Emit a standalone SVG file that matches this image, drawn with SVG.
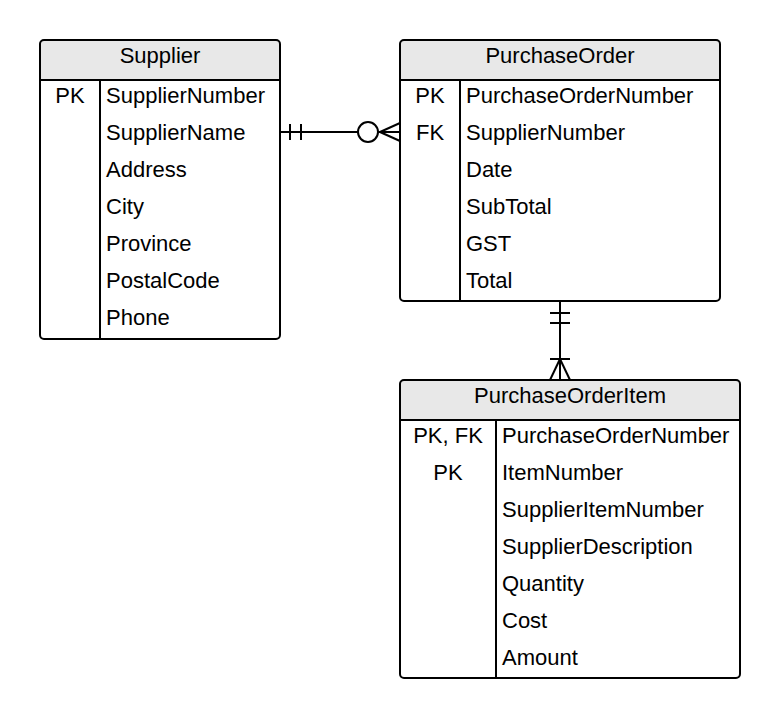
<svg xmlns="http://www.w3.org/2000/svg" width="780" height="719" viewBox="0 0 780 719">
<style>
  .box { fill: none; stroke: #000000; stroke-width: 2; }
  .hdr { fill: #e8e8e8; }
  .ln { stroke: #000000; stroke-width: 2; fill: none; }
  text { font-family: "Liberation Sans", Arial, sans-serif; font-size: 22px; fill: #000000; }
  .c { text-anchor: middle; }
</style>
<rect width="780" height="719" fill="#ffffff"/>

<g id="Supplier">
  <path class="hdr" d="M44,40 H276 A4,4 0 0 1 280,44 V80 H40 V44 A4,4 0 0 1 44,40 Z"/>
  <rect class="box" x="40" y="40" width="240" height="299" rx="4" ry="4"/>
  <line class="ln" x1="40" y1="80" x2="280" y2="80"/>
  <line class="ln" x1="100" y1="80" x2="100" y2="339"/>
  <text class="c" x="160" y="63">Supplier</text>
  <text class="c" x="70" y="103">PK</text>
  <text x="106" y="103">SupplierNumber</text>
  <text x="106" y="140">SupplierName</text>
  <text x="106" y="177">Address</text>
  <text x="106" y="214">City</text>
  <text x="106" y="251">Province</text>
  <text x="106" y="288">PostalCode</text>
  <text x="106" y="325">Phone</text>
</g>

<g id="PurchaseOrder">
  <path class="hdr" d="M404,40 H716 A4,4 0 0 1 720,44 V80 H400 V44 A4,4 0 0 1 404,40 Z"/>
  <rect class="box" x="400" y="40" width="320" height="261" rx="4" ry="4"/>
  <line class="ln" x1="400" y1="80" x2="720" y2="80"/>
  <line class="ln" x1="460" y1="80" x2="460" y2="301"/>
  <text class="c" x="560" y="63">PurchaseOrder</text>
  <text class="c" x="430" y="103">PK</text>
  <text class="c" x="430" y="140">FK</text>
  <text x="466" y="103">PurchaseOrderNumber</text>
  <text x="466" y="140">SupplierNumber</text>
  <text x="466" y="177">Date</text>
  <text x="466" y="214">SubTotal</text>
  <text x="466" y="251">GST</text>
  <text x="466" y="288">Total</text>
</g>

<g id="PurchaseOrderItem">
  <path class="hdr" d="M404,380 H736 A4,4 0 0 1 740,384 V420 H400 V384 A4,4 0 0 1 404,380 Z"/>
  <rect class="box" x="400" y="380" width="340" height="298" rx="4" ry="4"/>
  <line class="ln" x1="400" y1="420" x2="740" y2="420"/>
  <line class="ln" x1="496" y1="420" x2="496" y2="678"/>
  <text class="c" x="570" y="403">PurchaseOrderItem</text>
  <text class="c" x="448" y="443">PK, FK</text>
  <text class="c" x="448" y="480">PK</text>
  <text x="502" y="443">PurchaseOrderNumber</text>
  <text x="502" y="480">ItemNumber</text>
  <text x="502" y="517">SupplierItemNumber</text>
  <text x="502" y="554">SupplierDescription</text>
  <text x="502" y="591">Quantity</text>
  <text x="502" y="628">Cost</text>
  <text x="502" y="665">Amount</text>
</g>

<g id="connectors">
  <line class="ln" x1="280" y1="132" x2="358" y2="132"/>
  <line class="ln" x1="290" y1="124" x2="290" y2="140"/>
  <line class="ln" x1="301" y1="124" x2="301" y2="140"/>
  <circle class="ln" cx="368" cy="132" r="10"/>
  <line class="ln" x1="378" y1="132" x2="400" y2="132"/>
  <line class="ln" x1="380" y1="132" x2="400" y2="123"/>
  <line class="ln" x1="380" y1="132" x2="400" y2="141"/>
  <line class="ln" x1="560" y1="301" x2="560" y2="380"/>
  <line class="ln" x1="550" y1="313" x2="570" y2="313"/>
  <line class="ln" x1="550" y1="323" x2="570" y2="323"/>
  <line class="ln" x1="550" y1="359" x2="570" y2="359"/>
  <line class="ln" x1="560" y1="359" x2="550" y2="380"/>
  <line class="ln" x1="560" y1="359" x2="570" y2="380"/>
</g>
</svg>
